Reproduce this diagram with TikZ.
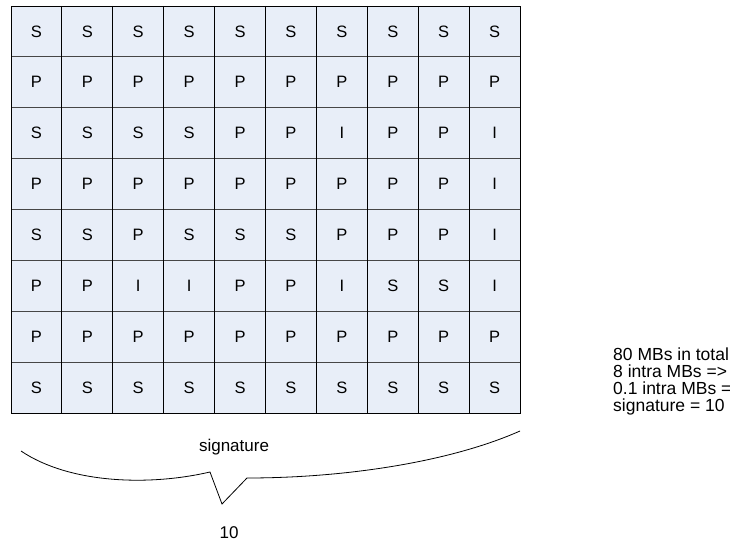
\documentclass[tikz,border=0pt]{standalone}
\usepackage{fontspec}
\setmainfont{Liberation Sans}
\definecolor{mbfill}{RGB}{232,238,248}
\definecolor{rowline}{RGB}{70,70,70}
\begin{document}
\begin{tikzpicture}[x=1bp,y=-1bp,
  mbtext/.style={inner sep=0pt, font=\fontsize{16.5bp}{18bp}\selectfont},
  note/.style={inner sep=0pt, anchor=base west, font=\fontsize{17.5bp}{18bp}\selectfont},
  label/.style={inner sep=0pt, font=\fontsize{17bp}{18bp}\selectfont},
  brace/.style={draw=black, line width=0.8bp, line join=miter}]
\useasboundingbox (0,0) rectangle (730,544);
\clip (0,0) rectangle (730,544);

% macroblock grid: 10 columns x 8 rows
\def\gx{11}\def\gy{6}\def\cw{50.9}\def\ch{50.875}
\fill[mbfill] (\gx,\gy) rectangle (520,413);
\foreach \r in {1,...,7}
  \draw[rowline, line width=0.9bp] (\gx,{\gy+\ch*\r}) -- (520,{\gy+\ch*\r});
\foreach \c in {1,...,9}
  \draw[black, line width=0.9bp] ({\gx+\cw*\c},\gy) -- ({\gx+\cw*\c},413);
\draw[black, line width=0.9bp] (\gx,\gy) rectangle (520,413);

% macroblock types
\foreach \row [count=\r] in {
  {S,S,S,S,S,S,S,S,S,S},
  {P,P,P,P,P,P,P,P,P,P},
  {S,S,S,S,P,P,I,P,P,I},
  {P,P,P,P,P,P,P,P,P,I},
  {S,S,P,S,S,S,P,P,P,I},
  {P,P,I,I,P,P,I,S,S,I},
  {P,P,P,P,P,P,P,P,P,P},
  {S,S,S,S,S,S,S,S,S,S}}
  \foreach \l [count=\c] in \row
    \node[mbtext] (mb\r-\c) at ({\gx+\cw*(\c-0.5)},{\gy+\ch*(\r-0.5)}) {\l};

% brace under the bottom row
\coordinate (bl) at (21,451);
\coordinate (bk1) at (210,472);
\coordinate (btip) at (222,504);
\coordinate (bk2) at (247,478);
\coordinate (br) at (520,431);
\draw[brace] (bl) .. controls (70,484) and (150,486) .. (bk1)
  -- (btip) -- (bk2) .. controls (345,478) and (450,462) .. (br);

\node[label] (sig) at (234,447) {signature};
\node[label] (ten) at (229,533) {10};

% summary text, running off the right edge
\node[note] (n1) at (613,360) {80 MBs in total};
\node[note] (n2) at (613,377) {8 intra MBs =>};
\node[note] (n3) at (613,394) {0.1 intra MBs =>};
\node[note] (n4) at (613,411) {signature = 10};
\end{tikzpicture}
\end{document}
